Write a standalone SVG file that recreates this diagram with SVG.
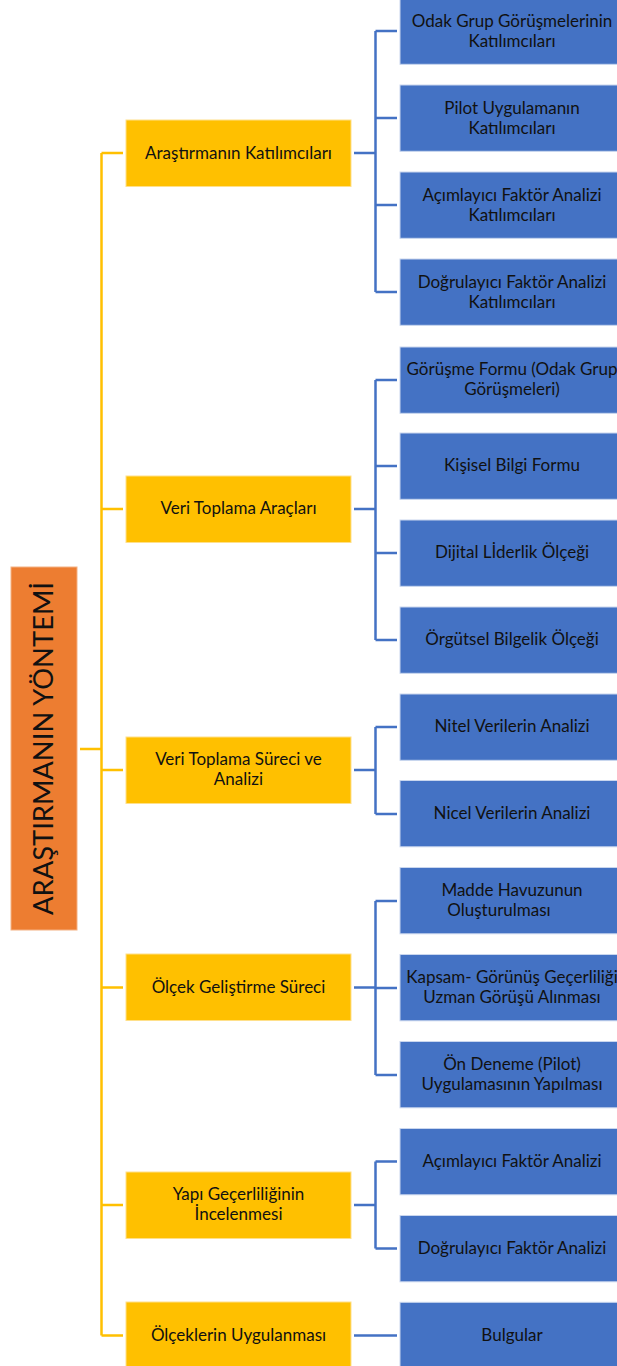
<svg xmlns="http://www.w3.org/2000/svg" width="617" height="1366" viewBox="0 0 617 1366">
  <style>
    .root { fill: #ED7D31; stroke: #F4B183; stroke-width: 1; }
    .cat { fill: #FFC000; stroke: #FFE08A; stroke-width: 1; }
    .item { fill: #4472C4; stroke: #C9D6EE; stroke-width: 1; }
    text { font-family: Lato, "Liberation Sans", sans-serif; font-size: 17px; text-anchor: middle; fill: #111; }
    .rootlabel { font-size: 27px; fill: #111; }
    .trunk { fill: none; stroke: #FFC000; stroke-width: 2.5; }
    .branch { fill: none; stroke: #4472C4; stroke-width: 2.5; }
  </style>

  <!-- connectors -->
  <g id="connectors">
    <!-- root to categories -->
    <path class="trunk" d="M80 749 H101.5 M101.5 153 V1335.5 M101.5 153 H123 M101.5 509 H123 M101.5 770 H123 M101.5 987.5 H123 M101.5 1205 H123 M101.5 1335.5 H123"/>
    <!-- category to items -->
    <path class="branch" d="M354 153 H375.5 M375.5 31 V292 M375.5 31 H397 M375.5 118 H397 M375.5 205 H397 M375.5 292 H397"/>
    <path class="branch" d="M354 509 H375.5 M375.5 380 V640 M375.5 380 H397 M375.5 466 H397 M375.5 553 H397 M375.5 640 H397"/>
    <path class="branch" d="M354 770 H375.5 M375.5 727 V814 M375.5 727 H397 M375.5 814 H397"/>
    <path class="branch" d="M354 987.5 H375.5 M375.5 901 V1075 M375.5 901 H397 M375.5 988 H397 M375.5 1075 H397"/>
    <path class="branch" d="M354 1205 H375.5 M375.5 1161.5 V1248.5 M375.5 1161.5 H397 M375.5 1248.5 H397"/>
    <path class="branch" d="M354 1335.5 H397"/>
  </g>

  <!-- root -->
  <g id="root">
    <rect class="root" x="11" y="567" width="66" height="363"/>
    <text class="rootlabel" transform="translate(53 748.5) rotate(-90)" textLength="333" lengthAdjust="spacingAndGlyphs">ARAŞTIRMANIN YÖNTEMİ</text>
  </g>

  <!-- categories -->
  <g id="cat-katilimcilar">
    <rect class="cat" x="126" y="120" width="225" height="66.5"/>
    <text x="238.5" y="158.5">Araştırmanın Katılımcıları</text>
  </g>
  <g id="cat-araclar">
    <rect class="cat" x="126" y="476" width="225" height="66.5"/>
    <text x="238.5" y="514">Veri Toplama Araçları</text>
  </g>
  <g id="cat-surec">
    <rect class="cat" x="126" y="737" width="225" height="66.5"/>
    <text x="238.5" y="765">Veri Toplama Süreci ve</text>
    <text x="238.5" y="785">Analizi</text>
  </g>
  <g id="cat-olcek">
    <rect class="cat" x="126" y="954" width="225" height="66.5"/>
    <text x="238.5" y="992.5">Ölçek Geliştirme Süreci</text>
  </g>
  <g id="cat-yapi">
    <rect class="cat" x="126" y="1172" width="225" height="66.5"/>
    <text x="238.5" y="1200">Yapı Geçerliliğinin</text>
    <text x="238.5" y="1220">İncelenmesi</text>
  </g>
  <g id="cat-uygulama">
    <rect class="cat" x="126" y="1302" width="225" height="66.5"/>
    <text x="238.5" y="1340.5">Ölçeklerin Uygulanması</text>
  </g>

  <!-- items: participants -->
  <g id="item-odak">
    <rect class="item" x="400" y="-2" width="225" height="66.3"/>
    <text x="512" y="26.5">Odak Grup Görüşmelerinin</text>
    <text x="512" y="46.5">Katılımcıları</text>
  </g>
  <g id="item-pilot">
    <rect class="item" x="400" y="85" width="225" height="66.3"/>
    <text x="512" y="113.5">Pilot Uygulamanın</text>
    <text x="512" y="133.5">Katılımcıları</text>
  </g>
  <g id="item-afa-kat">
    <rect class="item" x="400" y="172" width="225" height="66.3"/>
    <text x="512" y="200.5">Açımlayıcı Faktör Analizi</text>
    <text x="512" y="220.5">Katılımcıları</text>
  </g>
  <g id="item-dfa-kat">
    <rect class="item" x="400" y="259" width="225" height="66.3"/>
    <text x="512" y="287.5">Doğrulayıcı Faktör Analizi</text>
    <text x="512" y="307.5">Katılımcıları</text>
  </g>

  <!-- items: instruments -->
  <g id="item-gorusme">
    <rect class="item" x="400" y="347" width="225" height="66.3"/>
    <text x="512" y="375">Görüşme Formu (Odak Grup</text>
    <text x="512" y="395">Görüşmeleri)</text>
  </g>
  <g id="item-kisisel">
    <rect class="item" x="400" y="433" width="225" height="66.3"/>
    <text x="512" y="471">Kişisel Bilgi Formu</text>
  </g>
  <g id="item-dijital">
    <rect class="item" x="400" y="520" width="225" height="66.3"/>
    <text x="512" y="558">Dijital Lİderlik Ölçeği</text>
  </g>
  <g id="item-orgutsel">
    <rect class="item" x="400" y="607" width="225" height="66.3"/>
    <text x="512" y="645">Örgütsel Bilgelik Ölçeği</text>
  </g>

  <!-- items: process and analysis -->
  <g id="item-nitel">
    <rect class="item" x="400" y="694" width="225" height="66.3"/>
    <text x="512" y="732">Nitel Verilerin Analizi</text>
  </g>
  <g id="item-nicel">
    <rect class="item" x="400" y="780.5" width="225" height="66.3"/>
    <text x="512" y="818.5">Nicel Verilerin Analizi</text>
  </g>

  <!-- items: scale development -->
  <g id="item-madde">
    <rect class="item" x="400" y="867.5" width="225" height="66.3"/>
    <text x="512" y="895.5">Madde Havuzunun</text>
    <text x="499" y="915.5">Oluşturulması</text>
  </g>
  <g id="item-kapsam">
    <rect class="item" x="400" y="954.5" width="225" height="66.3"/>
    <text x="512" y="982.5">Kapsam- Görünüş Geçerliliği</text>
    <text x="512" y="1002.5">Uzman Görüşü Alınması</text>
  </g>
  <g id="item-ondeneme">
    <rect class="item" x="400" y="1041.5" width="225" height="66.3"/>
    <text x="512" y="1069.5">Ön Deneme (Pilot)</text>
    <text x="512" y="1089.5">Uygulamasının Yapılması</text>
  </g>

  <!-- items: construct validity -->
  <g id="item-afa">
    <rect class="item" x="400" y="1128.5" width="225" height="66.3"/>
    <text x="512" y="1166.5">Açımlayıcı Faktör Analizi</text>
  </g>
  <g id="item-dfa">
    <rect class="item" x="400" y="1215.5" width="225" height="66.3"/>
    <text x="512" y="1253.5">Doğrulayıcı Faktör Analizi</text>
  </g>

  <!-- items: application -->
  <g id="item-bulgular">
    <rect class="item" x="400" y="1302.3" width="225" height="66.3"/>
    <text x="512" y="1340.5">Bulgular</text>
  </g>
</svg>
